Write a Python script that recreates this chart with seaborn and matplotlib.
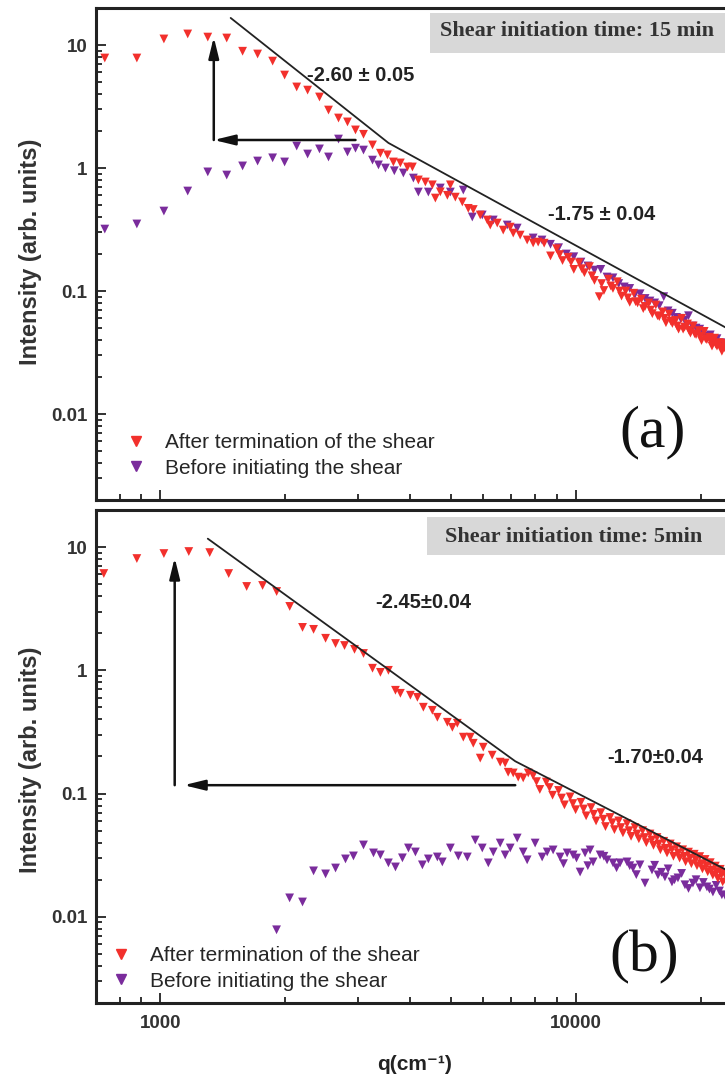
import matplotlib
matplotlib.use("Agg")
import matplotlib.pyplot as plt
import seaborn as sns
import pandas as pd
from matplotlib.lines import Line2D
from matplotlib.patches import Rectangle
from matplotlib.ticker import LogLocator, FixedLocator, FixedFormatter, NullFormatter

# ---------------- data ----------------
# panel (a): shear initiation time 15 min
a_red_q = [735, 878, 1020, 1164, 1301, 1445, 1578, 1715, 1864, 1992,
           2130, 2263, 2417, 2541, 2686, 2823, 2951, 3085, 3243, 3388,
           3523, 3641, 3785, 3936, 4046, 4182, 4347, 4519, 4595, 4723,
           4911, 4994, 5133, 5336, 5515, 5670, 5893, 6127, 6230, 6476,
           6694, 6959, 7076, 7354, 7644, 7903, 8125,
           8400, 8700, 9000, 9300, 9600, 9900, 10200, 10500, 10800, 11100,
           11400, 11700, 12000, 12300, 12600, 12900, 13200, 13500, 13800, 14100,
           14400, 14700, 15000, 15300, 15600, 15900, 16200, 16500, 16800, 17100,
           17400, 17700, 18000, 18300, 18600, 18900, 19200, 19500, 19800, 20100,
           20400, 20700, 21000, 21300, 21600, 21900, 22200, 22500, 22800, 23100,
           23400, 23700, 24000, 24300, 24600,
           9150, 9750, 10350, 10950, 11550, 12150, 12750, 13350, 13950, 14550,
           15150, 15750, 16350, 16950, 17550, 18150, 18750, 19350, 19950, 20550,
           21150, 21750, 22350, 22950, 23550, 24150]
a_red_I = [7.84, 7.84, 11.2, 12.3, 11.6, 11.4, 8.9, 8.45, 7.4, 5.7,
           4.56, 4.3, 3.78, 2.96, 2.55, 2.37, 2.04, 1.88, 1.54, 1.32,
           1.28, 1.12, 1.10, 1.02, 1.02, 0.80, 0.77, 0.73, 0.57, 0.64,
           0.60, 0.73, 0.58, 0.53, 0.47, 0.46, 0.415, 0.378, 0.344, 0.357,
           0.313, 0.331, 0.296, 0.285, 0.260, 0.246, 0.250,
           0.245, 0.193, 0.221, 0.177, 0.188, 0.150, 0.170, 0.141, 0.158, 0.122,
           0.090, 0.101, 0.125, 0.105, 0.119, 0.091, 0.100, 0.081, 0.096, 0.080,
           0.086, 0.075, 0.080, 0.0655, 0.077, 0.062, 0.0677, 0.0553, 0.065, 0.0545,
           0.0577, 0.0490, 0.0600, 0.0510, 0.0540, 0.0455, 0.0520, 0.0443, 0.0477, 0.0396,
           0.0470, 0.0403, 0.0421, 0.0357, 0.0414, 0.0357, 0.0381, 0.0324, 0.0375, 0.0326,
           0.0348, 0.0296, 0.0334, 0.0291, 0.0309,
           0.198, 0.172, 0.152, 0.133, 0.115, 0.110, 0.100, 0.088, 0.082, 0.072,
           0.070, 0.063, 0.060, 0.057, 0.052, 0.049, 0.048, 0.045, 0.043, 0.041,
           0.039, 0.037, 0.035, 0.034, 0.032, 0.031]
a_pur_q = [735, 878, 1020, 1164, 1301, 1445, 1578, 1715, 1864, 1992,
           2130, 2263, 2417, 2541, 2686, 2823, 2951, 3085, 3243, 3352,
           3484, 3660, 3848, 4068, 4182, 4420, 4723, 4994, 5365, 5639,
           5960, 6335, 6844, 7234, 7903,
           8300, 8700, 9100, 9500, 9900, 10300, 10700, 11100, 11500, 11900,
           12300, 12700, 13100, 13500, 13900, 14300, 14700, 15100, 15500, 15900,
           16300, 16700, 17100, 17500, 17900, 18300, 18700, 19100, 19500, 19900,
           20300, 20700, 21100, 21500, 21900, 22300, 22700, 23100, 23500, 23900,
           24300, 24700]
a_pur_I = [0.319, 0.351, 0.447, 0.65, 0.93, 0.877, 1.04, 1.14, 1.21, 1.12,
           1.51, 1.30, 1.43, 1.23, 1.72, 1.35, 1.45, 1.40, 1.16, 1.06,
           1.00, 0.95, 0.911, 0.829, 0.638, 0.638, 0.688, 0.638, 0.662, 0.400,
           0.415, 0.378, 0.344, 0.325, 0.270,
           0.26, 0.24, 0.225, 0.20, 0.19, 0.172, 0.16, 0.148, 0.15, 0.13,
           0.128, 0.115, 0.108, 0.105, 0.094, 0.095, 0.087, 0.083, 0.080, 0.076,
           0.090, 0.069, 0.066, 0.061, 0.060, 0.058, 0.063, 0.052, 0.050, 0.049,
           0.046, 0.043, 0.044, 0.039, 0.041, 0.036, 0.038, 0.034, 0.035, 0.031,
           0.033, 0.030]
a_fit_q = [1477, 3542, 24850]
a_fit_I = [16.6, 1.6, 0.0437]

# panel (b): shear initiation time 5 min
b_red_q = [731, 878, 1020, 1171, 1315, 1461, 1614, 1763, 1906, 2049,
           2200, 2339, 2500, 2642, 2777, 2935, 3085, 3243, 3388, 3542,
           3683, 3785, 4001, 4159, 4299, 4519, 4646, 4911, 5049, 5190,
           5365, 5576, 5670, 5893, 5992, 6297, 6582, 6766, 6880, 7076,
           7274, 7478, 7690,
           7900, 8200, 8500, 8800, 9100, 9400, 9700, 10000, 10300, 10600,
           10900, 11200, 11500, 11800, 12100, 12400, 12700, 13000, 13300, 13600,
           13900, 14200, 14500, 14800, 15100, 15400, 15700, 16000, 16300, 16600,
           16900, 17200, 17500, 17800, 18100, 18400, 18700, 19000, 19300, 19600,
           19900, 20200, 20500, 20800, 21100, 21400, 21700, 22000, 22300, 22600,
           22900, 23200, 23500, 23800, 24100, 24400, 24700,
           8050, 8650, 9250, 9850, 10450, 11050, 11650, 12250, 12850, 13450,
           14050, 14650, 15250, 15850, 16450, 17050, 17650, 18250, 18850, 19450,
           20050, 20650, 21250, 21850, 22450, 23050, 23650, 24250]
b_red_I = [6.10, 8.07, 8.86, 9.2, 9.02, 6.10, 4.79, 4.88, 4.36, 3.30,
           2.23, 2.15, 1.82, 1.65, 1.59, 1.48, 1.37, 1.04, 0.963, 1.0,
           0.689, 0.651, 0.628, 0.604, 0.502, 0.474, 0.416, 0.379, 0.345, 0.372,
           0.287, 0.287, 0.256, 0.194, 0.238, 0.205, 0.180, 0.177, 0.149, 0.147,
           0.136, 0.134, 0.147,
           0.140, 0.108, 0.124, 0.097, 0.106, 0.081, 0.094, 0.074, 0.085, 0.066,
           0.077, 0.060, 0.070, 0.054, 0.064, 0.051, 0.060, 0.048, 0.057, 0.045,
           0.053, 0.043, 0.050, 0.040, 0.047, 0.038, 0.044, 0.035, 0.041, 0.033,
           0.039, 0.031, 0.037, 0.030, 0.035, 0.028, 0.0335, 0.027, 0.0322, 0.026,
           0.0308, 0.0245, 0.0292, 0.0232, 0.0275, 0.0218, 0.0258, 0.0205, 0.0243, 0.0192,
           0.0230, 0.0183, 0.0220, 0.0176, 0.0210, 0.0168, 0.0200,
           0.125, 0.112, 0.092, 0.083, 0.075, 0.068, 0.062, 0.058, 0.053, 0.050,
           0.047, 0.044, 0.042, 0.039, 0.036, 0.035, 0.033, 0.031, 0.030, 0.029,
           0.027, 0.026, 0.024, 0.023, 0.022, 0.021, 0.020, 0.019]
b_pur_q = [1905, 2048, 2200, 2339, 2500, 2642, 2792, 2918, 3085, 3261,
           3388, 3542, 3683, 3828, 3958, 4114, 4276, 4420, 4646, 4776,
           4994, 5219, 5486, 5733, 5960, 6163, 6335, 6582, 6766, 6959,
           7234, 7478, 7644, 7990, 8306, 8542, 8828, 9177, 9541, 9863,
           10252, 10539, 10836, 11018, 11454, 11905, 12306, 12794, 13300, 13749,
           14289, 14692, 15273, 15788, 16410, 17060, 17637, 18335, 19163, 19923,
           20710, 21410, 22500,
           15500, 16100, 16700, 17300, 18000, 18700, 19500, 20300, 21000, 21800,
           22200, 23000, 23500, 24200, 24700,
           9350, 10050, 10700, 11700, 12550, 13500, 14000]
b_pur_I = [0.00785, 0.01425, 0.0132, 0.0236, 0.0223, 0.0249, 0.0295, 0.0312, 0.0383, 0.0330,
           0.0318, 0.0274, 0.0254, 0.0301, 0.0362, 0.0336, 0.0264, 0.0295, 0.0306, 0.0279,
           0.0362, 0.0312, 0.0306, 0.0420, 0.0362, 0.0274, 0.0336, 0.0397, 0.0318, 0.0362,
           0.0436, 0.0336, 0.0290, 0.0397, 0.0306, 0.0336, 0.0349, 0.0306, 0.0330, 0.0318,
           0.0231, 0.0330, 0.0349, 0.0279, 0.0318, 0.0290, 0.0274, 0.0274, 0.0279, 0.0249,
           0.0264, 0.0188, 0.0240, 0.0219, 0.0211, 0.0192, 0.0207, 0.0182, 0.0188, 0.0172,
           0.0175, 0.0159, 0.0151,
           0.0262, 0.0230, 0.0245, 0.0200, 0.0225, 0.0170, 0.0200, 0.0190, 0.0168, 0.0180,
           0.0162, 0.0145, 0.0158, 0.0140, 0.0150,
           0.027, 0.030, 0.026, 0.031, 0.025, 0.026, 0.022]
b_fit_q = [1301, 7155, 24850]
b_fit_I = [11.7, 0.183, 0.0211]

# arrows: (tail, tip) in data units
a_arrows = [((1345, 1.69), (1345, 11.6)), ((2951, 1.69), (1345, 1.69))]
b_arrows = [((1083, 0.117), (1083, 8.2)), ((7155, 0.117), (1139, 0.117))]

labels = ["After termination of the shear", "Before initiating the shear"]
panel_titles = ["Shear initiation time: 15 min", "Shear initiation time: 5min"]
slopes_a = ["-2.60 \u00b1 0.05", "-1.75 \u00b1 0.04"]
slopes_b = ["-2.45\u00b10.04", "-1.70\u00b10.04"]

x_ticks = [1000, 10000]
x_ticklabels = ["1000", "10000"]
y_ticks = [0.01, 0.1, 1, 10]
y_ticklabels = ["0.01", "0.1", "1", "10"]

RED = "#f2302c"
PURPLE = "#7a2c9c"
INK = "#222222"

# ---------------- style ----------------
sns.set_theme(style="white")
plt.rcParams["font.family"] = ["Liberation Sans", "DejaVu Sans"]

fig = plt.figure(figsize=(7.25, 10.8), dpi=100)
ax_a = fig.add_axes([0.1324, 0.537, 0.888, 0.4556])
ax_b = fig.add_axes([0.1324, 0.0713, 0.888, 0.4565])


def draw_panel(ax, red_q, red_I, pur_q, pur_I, fit_q, fit_I, arrows):
    pur = pd.DataFrame({"q": pur_q, "I": pur_I})
    red = pd.DataFrame({"q": red_q, "I": red_I})
    sns.scatterplot(data=pur, x="q", y="I", ax=ax, marker="v", s=40,
                    color=PURPLE, edgecolor="none", linewidth=0, zorder=3)
    sns.scatterplot(data=red, x="q", y="I", ax=ax, marker="v", s=40,
                    color=RED, edgecolor="none", linewidth=0, zorder=4)
    ax.plot(fit_q, fit_I, color=INK, lw=1.3, zorder=5)
    for tail, tip in arrows:
        ax.annotate("", xy=tip, xytext=tail, xycoords="data",
                    arrowprops=dict(arrowstyle="-|>,head_length=0.9,head_width=0.22",
                                    color="#111111", lw=1.8, mutation_scale=14,
                                    shrinkA=0, shrinkB=0), zorder=6)
    ax.set_xscale("log")
    ax.set_yscale("log")
    ax.set_xlim(700, 24850)
    ax.set_ylim(0.002, 20)
    ax.set_xlabel("")
    ax.set_ylabel("")
    ax.xaxis.set_major_locator(FixedLocator(x_ticks))
    ax.xaxis.set_major_formatter(FixedFormatter(x_ticklabels))
    ax.xaxis.set_minor_locator(LogLocator(base=10, subs=range(2, 10), numticks=20))
    ax.xaxis.set_minor_formatter(NullFormatter())
    ax.yaxis.set_major_locator(FixedLocator(y_ticks))
    ax.yaxis.set_major_formatter(FixedFormatter(y_ticklabels))
    ax.yaxis.set_minor_locator(LogLocator(base=10, subs=range(2, 10), numticks=20))
    ax.yaxis.set_minor_formatter(NullFormatter())
    ax.tick_params(which="both", direction="in", top=False, right=False,
                   left=True, bottom=True, color=INK, width=1.3)
    ax.tick_params(which="major", length=7)
    ax.tick_params(which="minor", length=4)
    ax.tick_params(axis="y", which="major", pad=6, labelsize=13.5, labelcolor="#333333")
    ax.tick_params(axis="x", which="major", pad=9, labelsize=13.5, labelcolor="#333333")
    for lab in ax.get_xticklabels() + ax.get_yticklabels():
        lab.set_fontweight("bold")
    for sp in ax.spines.values():
        sp.set_linewidth(2.2)
        sp.set_color(INK)
        sp.set_visible(True)
    ax.grid(False)
    handles = [Line2D([], [], marker="v", linestyle="none", color=RED, markersize=7),
               Line2D([], [], marker="v", linestyle="none", color=PURPLE, markersize=7)]
    return handles


h = draw_panel(ax_a, a_red_q, a_red_I, a_pur_q, a_pur_I, a_fit_q, a_fit_I, a_arrows)
draw_panel(ax_b, b_red_q, b_red_I, b_pur_q, b_pur_I, b_fit_q, b_fit_I, b_arrows)
ax_a.tick_params(axis="x", which="both", labelbottom=False)

# gray title boxes
ax_a.add_patch(Rectangle((0.5186, 0.9085), 0.6, 0.0813, transform=ax_a.transAxes,
                         facecolor="#d8d8d8", edgecolor="none", zorder=7, clip_on=False))
ax_a.text(0.7477, 0.953, panel_titles[0], transform=ax_a.transAxes, ha="center",
          va="center", fontsize=16, fontweight="bold", family="Liberation Serif",
          color="#333333", zorder=8)
ax_b.add_patch(Rectangle((0.514, 0.9087), 0.6, 0.0771, transform=ax_b.transAxes,
                         facecolor="#d8d8d8", edgecolor="none", zorder=7, clip_on=False))
ax_b.text(0.7415, 0.9452, panel_titles[1], transform=ax_b.transAxes, ha="center",
          va="center", fontsize=16, fontweight="bold", family="Liberation Serif",
          color="#333333", zorder=8)

# slope annotations
ax_a.text(0.3276, 0.8638, slopes_a[0], transform=ax_a.transAxes, ha="left", va="center",
          fontsize=14.5, fontweight="bold", color=INK)
ax_a.text(0.7019, 0.5793, slopes_a[1], transform=ax_a.transAxes, ha="left", va="center",
          fontsize=14.5, fontweight="bold", color=INK)
ax_b.text(0.4332, 0.8114, slopes_b[0], transform=ax_b.transAxes, ha="left", va="center",
          fontsize=14.5, fontweight="bold", color=INK)
ax_b.text(0.7935, 0.497, slopes_b[1], transform=ax_b.transAxes, ha="left", va="center",
          fontsize=14.5, fontweight="bold", color=INK)

# panel letters
ax_a.text(0.8137, 0.1382, "(a)", transform=ax_a.transAxes, ha="left", va="center",
          fontsize=43, family="Liberation Serif", color="#111111")
ax_b.text(0.7981, 0.0933, "(b)", transform=ax_b.transAxes, ha="left", va="center",
          fontsize=43, family="Liberation Serif", color="#111111")

# legends
for ax, x0, y0 in [(ax_a, 0.0466, 0.0904), (ax_b, 0.0233, 0.070)]:
    leg = ax.legend(h, labels, loc="center left", bbox_to_anchor=(x0, y0),
                    frameon=False, borderpad=0, borderaxespad=0, handlelength=1.0,
                    handletextpad=0.85, labelspacing=0.3, fontsize=15)
    for t in leg.get_texts():
        t.set_color("#262626")

# axis labels
fig.text(0.572, 0.0139, "q(cm\u207b\u00b9)", ha="center", va="center",
         fontsize=15, fontweight="bold", color=INK,
         family=["Liberation Sans", "DejaVu Sans"])
fig.text(0.0414, 0.7667, "Intensity (arb. units)", rotation=90, ha="center",
         va="center", fontsize=17, fontweight="bold", color="#333333")
fig.text(0.0414, 0.2963, "Intensity (arb. units)", rotation=90, ha="center",
         va="center", fontsize=17, fontweight="bold", color="#333333")

fig.savefig("out.png", dpi=100)
